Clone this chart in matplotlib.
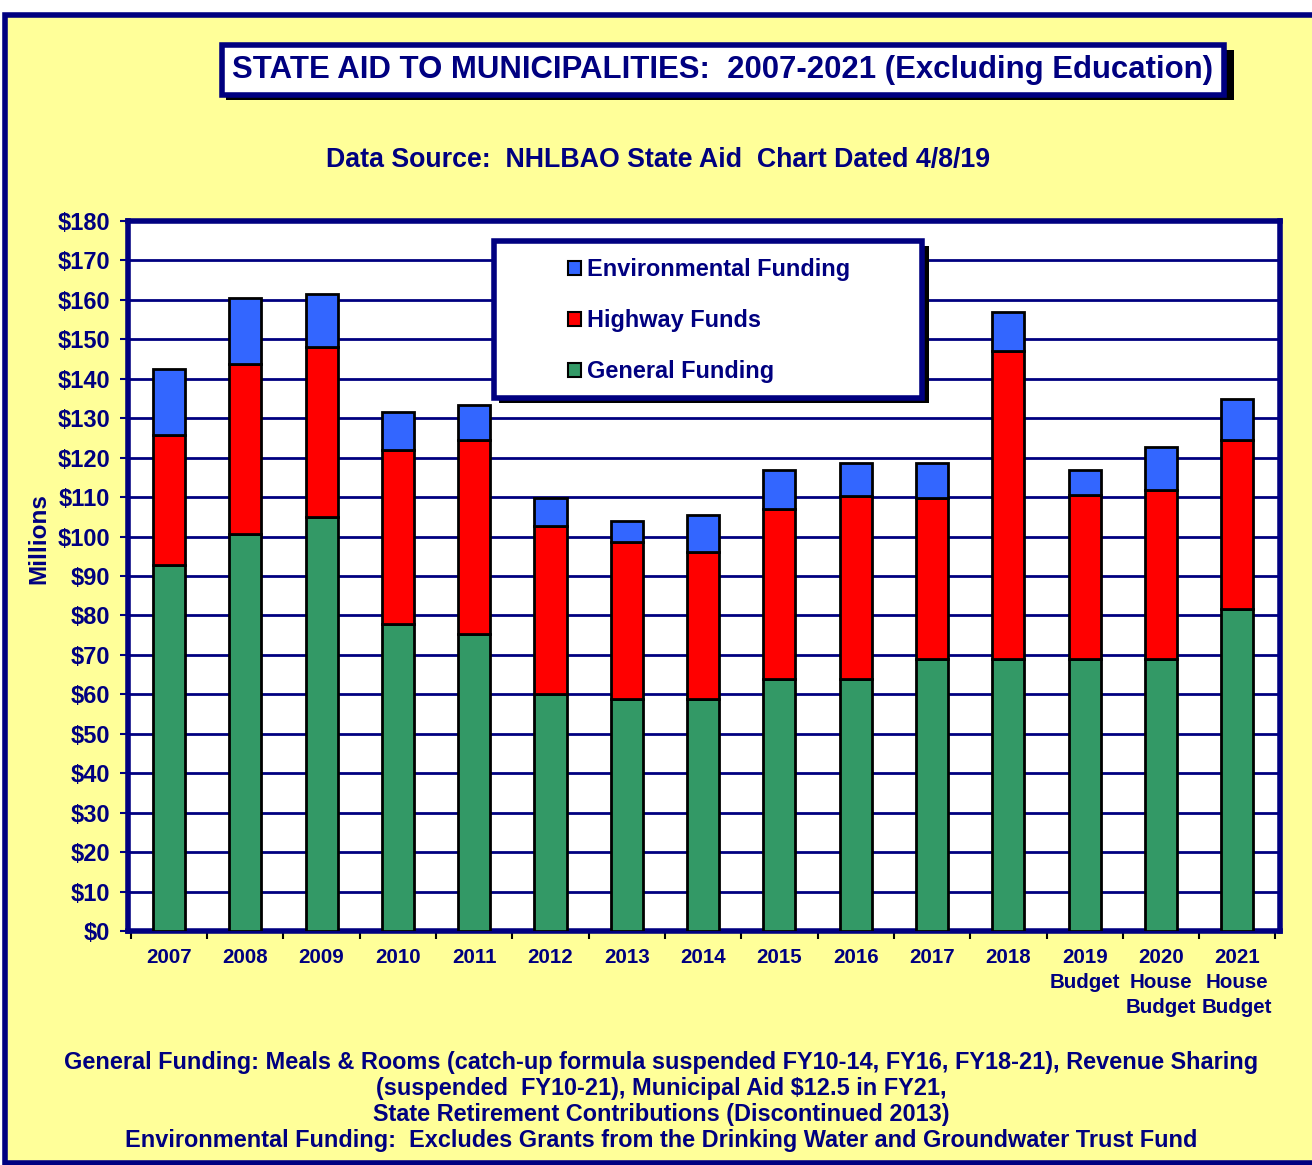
import matplotlib.pyplot as plt
from matplotlib.patches import Rectangle, Patch
import numpy as np

# Data (millions of dollars)
years = ['2007', '2008', '2009', '2010', '2011', '2012', '2013', '2014',
         '2015', '2016', '2017', '2018', '2019\nBudget', '2020\nHouse\nBudget',
         '2021\nHouse\nBudget']
general = [92.8, 100.7, 105.0, 77.8, 75.3, 60.0, 58.8, 58.8,
           63.9, 63.9, 69.0, 69.0, 69.0, 69.0, 81.6]
highway = [33.0, 43.1, 43.0, 44.2, 49.2, 42.7, 39.8, 37.2,
           43.1, 46.4, 40.8, 78.0, 41.5, 42.8, 42.9]
environmental = [16.7, 16.7, 13.5, 9.6, 8.9, 7.1, 5.4, 9.5,
                 9.9, 8.4, 8.9, 10.0, 6.4, 10.9, 10.4]

navy = '#000080'
yellow = '#FFFF99'
green = '#339966'
red = '#FF0000'
blue = '#3366FF'
font = 'Liberation Sans'

W, H = 1312, 1165
fig = plt.figure(figsize=(W / 100, H / 100), dpi=100)
fig.patch.set_facecolor('white')


def fx(px):
    return px / W


def fy(py):
    return 1 - py / H


# Yellow page with navy border
fig.patches.append(Rectangle((fx(5), fy(1163)), fx(1320) - fx(5), fy(15) - fy(1163),
                             transform=fig.transFigure, facecolor=yellow,
                             edgecolor=navy, linewidth=4, zorder=-5))

# Title box with shadow
fig.patches.append(Rectangle((fx(226), fy(100)), fx(1008), fy(45) - fy(95),
                             transform=fig.transFigure, facecolor='black',
                             edgecolor='black', linewidth=0, zorder=1))
fig.patches.append(Rectangle((fx(222), fy(95)), fx(1002), fy(45) - fy(95),
                             transform=fig.transFigure, facecolor='white',
                             edgecolor=navy, linewidth=4, zorder=2))
fig.text(fx(723), fy(70), 'STATE AID TO MUNICIPALITIES:  2007-2021 (Excluding Education)',
         ha='center', va='center', fontsize=22.4, fontweight='bold', color=navy,
         family=font, zorder=3)
fig.text(fx(658), fy(160), 'Data Source:  NHLBAO State Aid  Chart Dated 4/8/19',
         ha='center', va='center', fontsize=19.3, fontweight='bold', color=navy,
         family=font, zorder=3)

# Plot area
ax = fig.add_axes([fx(128), fy(931), fx(1280) - fx(128), fy(221) - fy(931)])
ax.set_zorder(1)
ax.set_facecolor('white')
x = np.arange(len(years))
bw = 0.42
bottom2 = np.array(general)
bottom3 = bottom2 + np.array(highway)
ax.bar(x, general, bw, color=green, edgecolor='black', linewidth=2, zorder=3)
ax.bar(x, highway, bw, bottom=bottom2, color=red, edgecolor='black', linewidth=2, zorder=3)
ax.bar(x, environmental, bw, bottom=bottom3, color=blue, edgecolor='black', linewidth=2, zorder=3)

ax.set_ylim(0, 180)
ax.set_xlim(-0.537, 14.56)
ax.set_yticks(np.arange(0, 181, 10))
ax.set_yticklabels(['$%d' % v for v in range(0, 181, 10)], fontsize=17,
                   fontweight='bold', color=navy, family=font)
ax.yaxis.grid(True, color=navy, linewidth=2, zorder=1)
ax.set_axisbelow(True)
ax.tick_params(axis='y', length=6, width=1.5, color=navy, pad=7)

ax.set_xticks(x)
ax.set_xticklabels(years, fontsize=14.8, fontweight='bold', color=navy,
                   family=font, linespacing=1.4)
ax.tick_params(axis='x', length=0, pad=12)
ax.set_xticks(np.arange(-0.5, 15, 1), minor=True)
ax.tick_params(axis='x', which='minor', length=6, width=1.5, color='black')

for s in ax.spines.values():
    s.set_color(navy)
    s.set_linewidth(4)

ax.set_ylabel('Millions', fontsize=17.5, fontweight='bold', color=navy, family=font)
ax.yaxis.set_label_coords(-(128 - 50) / 1152, (931 - 539) / 710)

# Legend box with shadow
fig.patches.append(Rectangle((fx(499), fy(403)), fx(430), fy(241) - fy(398),
                             transform=fig.transFigure, facecolor='black',
                             linewidth=0, zorder=5))
fig.patches.append(Rectangle((fx(494), fy(398)), fx(428), fy(241) - fy(398),
                             transform=fig.transFigure, facecolor='white',
                             edgecolor=navy, linewidth=4, zorder=6))
handles = [Patch(facecolor=blue, edgecolor='black', linewidth=1.5),
           Patch(facecolor=red, edgecolor='black', linewidth=1.5),
           Patch(facecolor=green, edgecolor='black', linewidth=1.5)]
labels = ['Environmental Funding', 'Highway Funds', 'General Funding']
leg = fig.legend(handles, labels, loc='upper left',
                 bbox_to_anchor=(fx(547), fy(237)), frameon=False,
                 prop={'family': font, 'weight': 'bold', 'size': 16.9},
                 handlelength=0.55, handleheight=0.55, handletextpad=0.25,
                 labelspacing=1.2)
leg.set_zorder(7)
for t in leg.get_texts():
    t.set_color(navy)

# Footer notes
notes = ['General Funding: Meals & Rooms (catch-up formula suspended FY10-14, FY16, FY18-21), Revenue Sharing',
         '(suspended  FY10-21), Municipal Aid $12.5 in FY21,',
         'State Retirement Contributions (Discontinued 2013)',
         'Environmental Funding:  Excludes Grants from the Drinking Water and Groundwater Trust Fund']
for i, line in enumerate(notes):
    fig.text(fx(661), fy(1063 + 25.7 * i), line, ha='center', va='center',
             fontsize=16.9, fontweight='bold', color=navy, family=font)

plt.savefig('out.png', dpi=100, facecolor=fig.get_facecolor())
